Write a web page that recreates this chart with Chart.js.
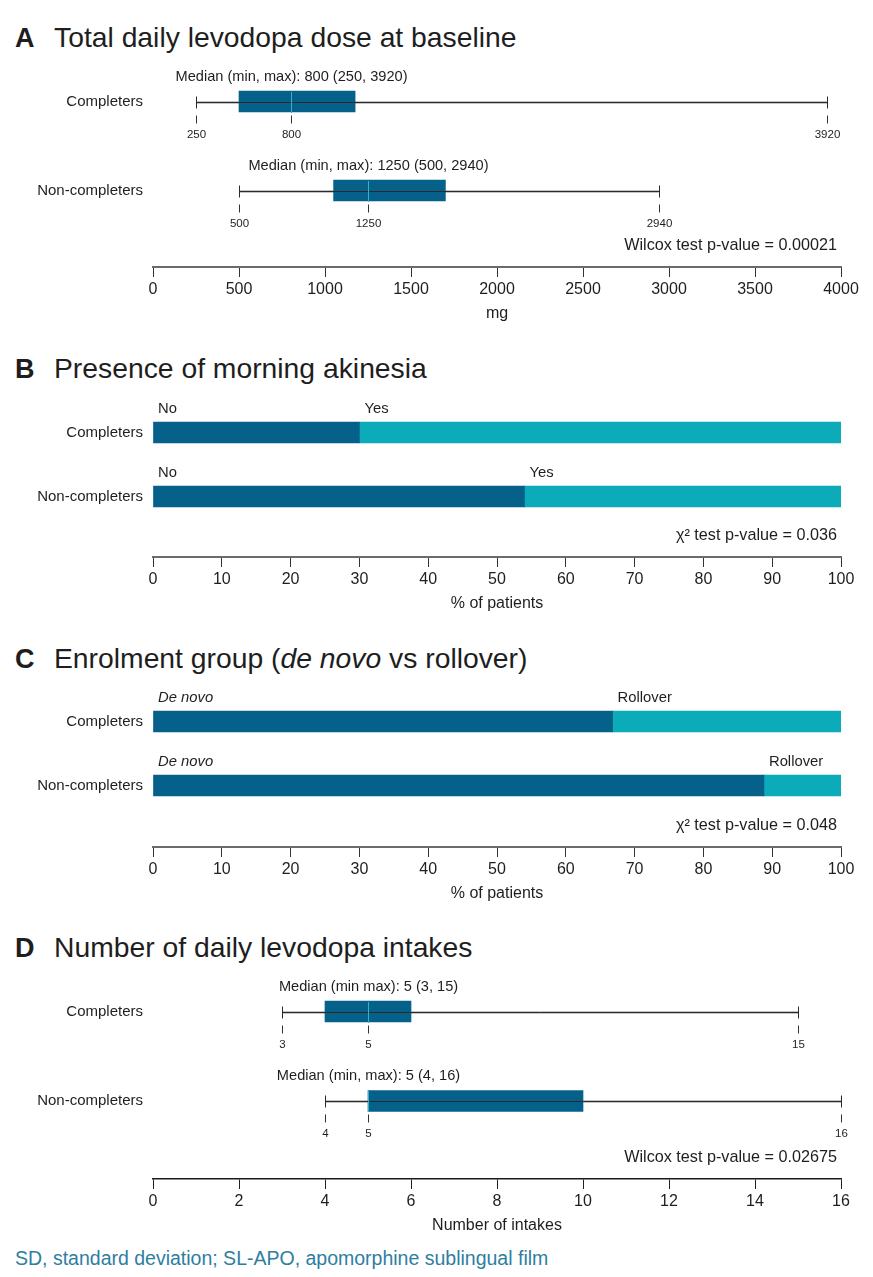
<!DOCTYPE html>
<html><head><meta charset="utf-8">
<script src="https://cdn.jsdelivr.net/npm/chart.js@4/dist/chart.umd.min.js"></script>
<style>
body{margin:0;background:#fff;}
#wrap{position:relative;width:873px;height:1277px;overflow:hidden;font-family:'Liberation Sans',Arial,sans-serif;color:#1e1e1e;background:#fff}
canvas{position:absolute;left:0}
.ttl{position:absolute;left:15px;font-size:28.3px;white-space:nowrap;line-height:34px}
.ttl b{font-weight:bold;display:inline-block;width:39px;font-size:27px}
.foot{position:absolute;left:15px;top:1246px;font-size:19.5px;line-height:24px;color:#2e7ea1;white-space:nowrap}
</style></head>
<body><div id="wrap">
<div class="ttl" style="top:20px"><b>A</b>Total daily levodopa dose at baseline</div>
<div class="ttl" style="top:351px"><b>B</b>Presence of morning akinesia</div>
<div class="ttl" style="top:641px"><b>C</b>Enrolment group (<i>de novo</i> vs rollover)</div>
<div class="ttl" style="top:930px"><b>D</b>Number of daily levodopa intakes</div>
<div class="foot">SD, standard deviation; SL-APO, apomorphine sublingual film</div>
<canvas id="cA"></canvas><canvas id="cB"></canvas><canvas id="cC"></canvas><canvas id="cD"></canvas>
</div>
<script>
// ---------- DATA ----------
const rowLabels = ['Completers', 'Non-completers'];

// A: total daily levodopa dose (mg)
const doseMin = [250, 500];
const doseQ1 = [500, 1050];
const doseMedian = [800, 1250];
const doseQ3 = [1175, 1700];
const doseMax = [3920, 2940];
const doseNotes = ['Median (min, max): 800 (250, 3920)', 'Median (min, max): 1250 (500, 2940)'];
const doseTicks = [0, 500, 1000, 1500, 2000, 2500, 3000, 3500, 4000];
const doseTest = 'Wilcox test p-value = 0.00021';

// B: morning akinesia (% of patients)
const akinesiaCats = ['No', 'Yes'];
const akinesiaNo = [30, 54];
const akinesiaYes = [70, 46];
const akinesiaTest = '\u03c7\u00b2 test p-value = 0.036';

// C: enrolment group (% of patients)
const enrolCats = ['De novo', 'Rollover'];
const enrolDeNovo = [66.8, 88.8];
const enrolRollover = [33.2, 11.2];
const enrolTest = '\u03c7\u00b2 test p-value = 0.048';

const percentTicks = [0, 10, 20, 30, 40, 50, 60, 70, 80, 90, 100];

// D: number of daily levodopa intakes
const intakeMin = [3, 4];
const intakeQ1 = [4, 5];
const intakeMedian = [5, 5];
const intakeQ3 = [6, 10];
const intakeMax = [15, 16];
const intakeNotes = ['Median (min max): 5 (3, 15)', 'Median (min, max): 5 (4, 16)'];
const intakeTicks = [0, 2, 4, 6, 8, 10, 12, 14, 16];
const intakeTest = 'Wilcox test p-value = 0.02675';

// ---------- STYLE ----------
const FAM = "'Liberation Sans', Arial, sans-serif";
const DARK = '#05608a';
const TEAL = '#0babb9';
const TXT = '#1e1e1e';

function makePanel(id, lay, xcfg, datasets, stacked, drawFn) {
  const cv = document.getElementById(id);
  const top = Math.round(lay.row0 - 62);
  const bottom = lay.titleY + 10;
  cv.width = 873; cv.height = bottom - top;
  cv.style.top = top + 'px';
  const unit = lay.row1 - lay.row0;
  const ymin = -(lay.row0 - top) / unit;
  const ymax = (lay.axisY - lay.row0) / unit;
  const xH = bottom - lay.axisY;
  return new Chart(cv, {
    type: 'bar',
    data: { datasets },
    options: {
      indexAxis: 'y', responsive: false, animation: false, devicePixelRatio: 1,
      layout: { padding: { left: 0, right: 32, top: 0, bottom: 0 } },
      plugins: { legend: { display: false }, tooltip: { enabled: false } },
      scales: {
        x: {
          type: 'linear', position: 'bottom', min: xcfg.min, max: xcfg.max, stacked, offset: false,
          afterBuildTicks: s => { s.ticks = xcfg.ticks.map(v => ({ value: v })); },
          grid: { drawOnChartArea: false, drawTicks: true, tickLength: 10, color: xcfg.tickColor, lineWidth: 1 },
          border: { display: true, color: xcfg.borderColor, width: xcfg.borderWidth },
          ticks: { padding: 3, font: { size: 16, family: FAM }, color: TXT, maxRotation: 0, autoSkip: false, callback: v => String(v) },
          title: { display: true, text: xcfg.title, font: { size: 16, family: FAM }, color: TXT, padding: 0 },
          afterFit: s => { s.height = xH; }
        },
        y: {
          type: 'linear', reverse: true, min: ymin, max: ymax, stacked, offset: false,
          afterBuildTicks: s => { s.ticks = rowLabels.map((_, i) => ({ value: i })); },
          ticks: { callback: v => rowLabels[v], font: { size: 15, family: FAM }, color: TXT, padding: 10, autoSkip: false },
          grid: { display: false, drawTicks: false, offset: false }, border: { display: false },
          afterFit: s => { s.width = 153; s.paddingTop = 0; s.paddingBottom = 0; }
        }
      }
    },
    plugins: [{
      id: 'extra',
      beforeDatasetsDraw(chart) { if (drawFn.before) drawFn.before(chart); },
      afterDatasetsDraw(chart) { drawFn.after(chart); }
    }]
  });
}

function pText(chart, text) {
  const ctx = chart.ctx, ca = chart.chartArea;
  ctx.save();
  ctx.font = '16.2px ' + FAM; ctx.fillStyle = TXT;
  ctx.textAlign = 'right'; ctx.textBaseline = 'middle';
  ctx.fillText(text, ca.right - 4, ca.bottom - 21);
  ctx.restore();
}

function boxDraw(mins, meds, maxs, notes, test) {
  return {
    before(chart) {
      const ctx = chart.ctx, xs = chart.scales.x, ys = chart.scales.y;
      ctx.save();
      ctx.strokeStyle = '#c4c4c4'; ctx.lineWidth = 3;
      rowLabels.forEach((_, i) => {
        const y = Math.round(ys.getPixelForValue(i)) + 0.5;
        ctx.beginPath(); ctx.moveTo(xs.getPixelForValue(mins[i]), y); ctx.lineTo(xs.getPixelForValue(maxs[i]), y); ctx.stroke();
      });
      ctx.restore();
    },
    after(chart) {
      const ctx = chart.ctx, xs = chart.scales.x, ys = chart.scales.y;
      ctx.save();
      rowLabels.forEach((_, i) => {
        const y = Math.round(ys.getPixelForValue(i)) + 0.5;
        const x0 = Math.round(xs.getPixelForValue(mins[i])) + 0.5;
        const xm = Math.round(xs.getPixelForValue(meds[i])) + 0.5;
        const x1 = Math.round(xs.getPixelForValue(maxs[i])) + 0.5;
        ctx.strokeStyle = '#2a2a2a'; ctx.lineWidth = 1;
        ctx.beginPath(); ctx.moveTo(x0, y); ctx.lineTo(x1, y); ctx.stroke();
        ctx.beginPath(); ctx.moveTo(x0, y - 6); ctx.lineTo(x0, y + 6); ctx.moveTo(x1, y - 6); ctx.lineTo(x1, y + 6); ctx.stroke();
        ctx.strokeStyle = '#2fb3c6';
        ctx.beginPath(); ctx.moveTo(xm, y - 10.5); ctx.lineTo(xm, y + 10.5); ctx.stroke();
        ctx.strokeStyle = '#333';
        ctx.beginPath();
        [x0, xm, x1].forEach(x => { ctx.moveTo(x, y + 13); ctx.lineTo(x, y + 21); });
        ctx.stroke();
        ctx.fillStyle = TXT; ctx.textAlign = 'center'; ctx.textBaseline = 'middle';
        ctx.font = '11.5px ' + FAM;
        [[x0, mins[i]], [xm, meds[i]], [x1, maxs[i]]].forEach(([x, v]) => ctx.fillText(String(v), x, y + 32));
        ctx.font = '14.6px ' + FAM;
        ctx.fillText(notes[i], xm, y - 26);
      });
      ctx.restore();
      pText(chart, test);
    }
  };
}

function segDraw(cats, italics, test) {
  return {
    after(chart) {
      const ctx = chart.ctx, xs = chart.scales.x, ys = chart.scales.y;
      ctx.save();
      ctx.fillStyle = TXT; ctx.textAlign = 'left'; ctx.textBaseline = 'middle';
      rowLabels.forEach((_, i) => {
        const y = ys.getPixelForValue(i);
        let cum = 0;
        chart.data.datasets.forEach((ds, k) => {
          const x = xs.getPixelForValue(cum);
          ctx.font = (italics[k] ? 'italic ' : '') + '14.8px ' + FAM;
          ctx.fillText(cats[k], x + 5, y - 23.5);
          cum += ds.data[i].x;
        });
      });
      ctx.restore();
      pText(chart, test);
    }
  };
}

const boxDs = (q1, q3) => [{ data: rowLabels.map((_, i) => ({ y: i, x: [q1[i], q3[i]] })), backgroundColor: DARK, barThickness: 21, borderWidth: 0 }];
const segDs = (a, b) => [
  { data: rowLabels.map((_, i) => ({ y: i, x: a[i] })), backgroundColor: DARK, barThickness: 21, borderWidth: 0 },
  { data: rowLabels.map((_, i) => ({ y: i, x: b[i] })), backgroundColor: TEAL, barThickness: 21, borderWidth: 0 }
];

const greyAxis = { tickColor: '#333', borderColor: '#6b6b6b', borderWidth: 2 };
const blackAxis = { tickColor: '#222', borderColor: '#1a1a1a', borderWidth: 1.5 };

makePanel('cA', { row0: 101.5, row1: 190.5, axisY: 267, titleY: 313 },
  Object.assign({ min: 0, max: 4000, ticks: doseTicks, title: 'mg' }, greyAxis),
  boxDs(doseQ1, doseQ3), false, boxDraw(doseMin, doseMedian, doseMax, doseNotes, doseTest));

makePanel('cB', { row0: 432.5, row1: 496.5, axisY: 557, titleY: 603 },
  Object.assign({ min: 0, max: 100, ticks: percentTicks, title: '% of patients' }, greyAxis),
  segDs(akinesiaNo, akinesiaYes), true, segDraw(akinesiaCats, [false, false], akinesiaTest));

makePanel('cC', { row0: 721.5, row1: 785.5, axisY: 847, titleY: 893 },
  Object.assign({ min: 0, max: 100, ticks: percentTicks, title: '% of patients' }, greyAxis),
  segDs(enrolDeNovo, enrolRollover), true, segDraw(enrolCats, [true, false], enrolTest));

makePanel('cD', { row0: 1011.5, row1: 1101, axisY: 1179, titleY: 1225 },
  Object.assign({ min: 0, max: 16, ticks: intakeTicks, title: 'Number of intakes' }, blackAxis),
  boxDs(intakeQ1, intakeQ3), false, boxDraw(intakeMin, intakeMedian, intakeMax, intakeNotes, intakeTest));
</script>
</body></html>
